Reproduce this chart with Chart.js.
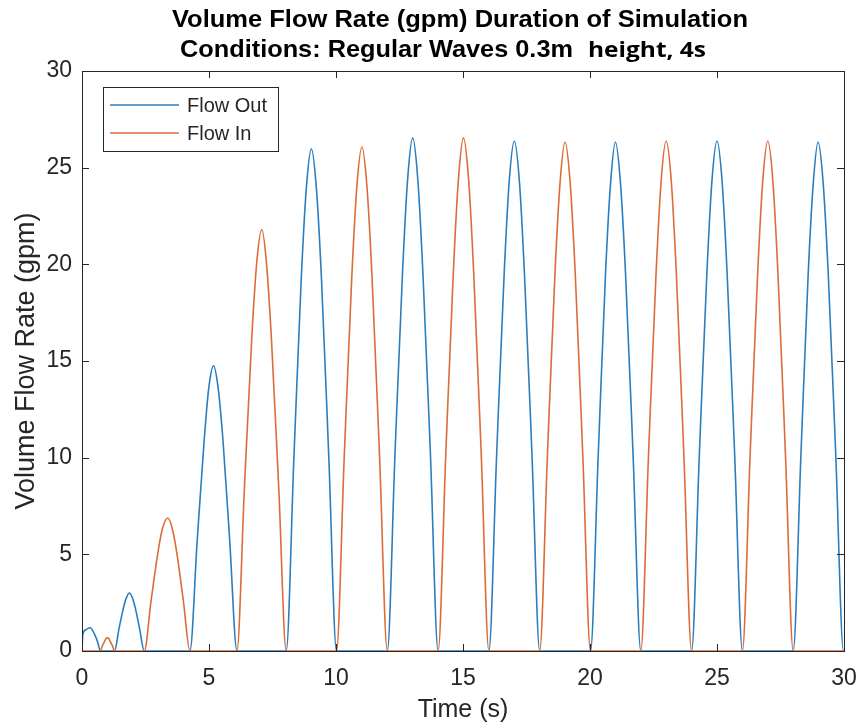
<!DOCTYPE html>
<html>
<head>
<meta charset="utf-8">
<script src="https://cdn.jsdelivr.net/npm/chart.js@4/dist/chart.umd.min.js"></script>
<style>
  html, body { margin: 0; padding: 0; background: #ffffff; }
  #wrap { width: 860px; height: 727px; position: relative; }
</style>
</head>
<body>
<div id="wrap"><canvas id="c" width="860" height="727"></canvas></div>
<script>
// ---- Data ----
const titleLine1 = "Volume Flow Rate (gpm) Duration of Simulation";
const titleLine2a = "Conditions: Regular Waves 0.3m";
const titleLine2b = "height, 4s";
const xAxisTitle = "Time (s)";
const yAxisTitle = "Volume Flow Rate (gpm)";
const seriesNames = ["Flow Out", "Flow In"];
const xTickValues = [0, 5, 10, 15, 20, 25, 30];
const yTickValues = [0, 5, 10, 15, 20, 25, 30];

// Flow Out (blue)
const flowOutTime = [
  0, 0.03, 0.15, 0.32, 0.5, 0.62, 0.72,
  1.28, 1.455, 1.63, 1.75, 1.865, 1.98, 2.10, 2.27, 2.45,
  4.25, 4.53, 4.81, 4.99, 5.18, 5.36, 5.55, 5.82, 6.10,
  8.04, 8.34, 8.63, 8.83, 9.03, 9.23, 9.43, 9.72, 10.02,
  12.02, 12.32, 12.62, 12.82, 13.02, 13.22, 13.42, 13.72, 14.02,
  16.02, 16.32, 16.62, 16.82, 17.02, 17.22, 17.42, 17.72, 18.02,
  20.02, 20.32, 20.61, 20.81, 21.0, 21.2, 21.4, 21.7, 22.0,
  24.0, 24.3, 24.6, 24.8, 25.0, 25.2, 25.4, 25.7, 26.0,
  28.0, 28.3, 28.59, 28.79, 28.98, 29.18, 29.38, 29.68, 29.98, 30
];
const flowOutRate = [
  0, 0.85, 1.1, 1.2, 0.85, 0.45, 0,
  0, 1.14, 2.22, 2.76, 3.0, 2.76, 2.22, 1.14, 0,
  0, 5.6, 10.9, 13.6, 14.75, 13.6, 10.9, 5.6, 0,
  0, 9.9, 19.2, 23.9, 25.97, 23.9, 19.2, 9.9, 0,
  0, 10.1, 19.6, 24.4, 26.54, 24.4, 19.6, 10.1, 0,
  0, 10.0, 19.5, 24.3, 26.38, 24.3, 19.5, 10.0, 0,
  0, 10.0, 19.5, 24.2, 26.33, 24.2, 19.5, 10.0, 0,
  0, 10.0, 19.5, 24.3, 26.38, 24.3, 19.5, 10.0, 0,
  0, 10.0, 19.5, 24.2, 26.33, 24.2, 19.5, 10.0, 0, 0
];

// Flow In (orange)
const flowInTime = [
  0,
  0.72, 0.80, 0.89, 0.94, 1.0, 1.06, 1.11, 1.2, 1.28,
  2.45, 2.72, 2.99, 3.17, 3.38, 3.55, 3.73, 3.99, 4.25,
  6.10, 6.39, 6.68, 6.88, 7.08, 7.26, 7.46, 7.75, 8.04,
  10.02, 10.32, 10.62, 10.82, 11.02, 11.22, 11.42, 11.72, 12.02,
  14.02, 14.32, 14.62, 14.82, 15.02, 15.22, 15.42, 15.72, 16.02,
  18.02, 18.32, 18.62, 18.82, 19.02, 19.22, 19.42, 19.72, 20.02,
  22.0, 22.3, 22.6, 22.8, 23.0, 23.2, 23.4, 23.7, 24.0,
  26.0, 26.3, 26.6, 26.8, 27.0, 27.2, 27.4, 27.7, 28.0,
  30
];
const flowInRate = [
  0,
  0, 0.26, 0.5, 0.63, 0.68, 0.63, 0.5, 0.26, 0,
  0, 2.6, 5.1, 6.35, 6.88, 6.35, 5.1, 2.6, 0,
  0, 8.3, 16.1, 20.1, 21.8, 20.1, 16.1, 8.3, 0,
  0, 9.9, 19.3, 24.0, 26.07, 24.0, 19.3, 9.9, 0,
  0, 10.1, 19.6, 24.4, 26.54, 24.4, 19.6, 10.1, 0,
  0, 10.0, 19.5, 24.2, 26.33, 24.2, 19.5, 10.0, 0,
  0, 10.0, 19.5, 24.3, 26.38, 24.3, 19.5, 10.0, 0,
  0, 10.0, 19.5, 24.3, 26.38, 24.3, 19.5, 10.0, 0,
  0
];

// ---- Styles ----
const BLUE = '#2a7ec0';
const ORANGE = '#de6b36';
const INK = '#262626';
const FONT = "'Liberation Sans', Arial, Helvetica, sans-serif";

function toPoints(xs, ys) { return xs.map((x, i) => ({ x: x, y: ys[i] })); }

function fitText(ctx, text, x, y, targetWidth, align) {
  const w = ctx.measureText(text).width;
  const s = targetWidth / w;
  ctx.save();
  ctx.translate(x, y);
  ctx.scale(s, 1);
  ctx.textAlign = align || 'left';
  ctx.fillText(text, 0, 0);
  ctx.restore();
}

const decorPlugin = {
  id: 'decor',
  afterDraw(chart) {
    const ctx = chart.ctx;
    const a = chart.chartArea;
    const xs = chart.scales.x, ys = chart.scales.y;
    ctx.save();
    // Box
    ctx.strokeStyle = INK;
    ctx.lineWidth = 1;
    ctx.strokeRect(Math.round(a.left) + 0.5, Math.round(a.top) + 0.5,
                   Math.round(a.right - a.left), Math.round(a.bottom - a.top));
    // Inward ticks on all sides
    const tl = 7;
    ctx.beginPath();
    xTickValues.forEach(v => {
      const px = Math.round(xs.getPixelForValue(v)) + 0.5;
      ctx.moveTo(px, a.bottom); ctx.lineTo(px, a.bottom - tl);
      ctx.moveTo(px, a.top); ctx.lineTo(px, a.top + tl);
    });
    yTickValues.forEach(v => {
      const py = Math.round(ys.getPixelForValue(v)) + 0.5;
      ctx.moveTo(a.left, py); ctx.lineTo(a.left + tl, py);
      ctx.moveTo(a.right, py); ctx.lineTo(a.right - tl, py);
    });
    ctx.stroke();

    // Legend
    const lx = 103, ly = 87, lw = 175, lh = 64;
    ctx.fillStyle = '#ffffff';
    ctx.fillRect(lx, ly, lw, lh);
    ctx.strokeStyle = INK;
    ctx.strokeRect(lx + 0.5, ly + 0.5, lw, lh);
    const rows = [105, 133];
    chart.data.datasets.forEach((ds, i) => {
      const y = rows[i];
      ctx.strokeStyle = ds.borderColor;
      ctx.lineWidth = 1.5;
      ctx.beginPath();
      ctx.moveTo(110, y); ctx.lineTo(179, y);
      ctx.stroke();
      ctx.fillStyle = INK;
      ctx.font = "20px " + FONT;
      ctx.textBaseline = 'middle';
      ctx.textAlign = 'left';
      ctx.fillText(ds.label, 187, y + 1);
    });

    // Title
    ctx.fillStyle = '#000000';
    ctx.textBaseline = 'alphabetic';
    ctx.font = "bold 24px " + FONT;
    fitText(ctx, titleLine1, 172, 27, 576, 'left');
    fitText(ctx, titleLine2a, 180, 57, 393, 'left');
    ctx.font = "bold 22px 'Open Sans', 'Noto Sans', sans-serif";
    fitText(ctx, titleLine2b, 588, 57, 118, 'left');
    ctx.restore();
  }
};

Chart.defaults.font.family = FONT;
Chart.defaults.color = INK;

new Chart(document.getElementById('c'), {
  type: 'line',
  data: {
    datasets: [
      {
        label: seriesNames[0],
        data: toPoints(flowOutTime, flowOutRate),
        borderColor: BLUE,
        borderWidth: 1.6,
        pointRadius: 0,
        cubicInterpolationMode: 'monotone',
        fill: false,
        order: 1
      },
      {
        label: seriesNames[1],
        data: toPoints(flowInTime, flowInRate),
        borderColor: ORANGE,
        borderWidth: 1.6,
        pointRadius: 0,
        cubicInterpolationMode: 'monotone',
        fill: false,
        order: 0
      }
    ]
  },
  options: {
    responsive: false,
    animation: false,
    events: [],
    layout: { padding: { top: 71, right: 16, bottom: 0, left: 0 } },
    plugins: {
      legend: { display: false },
      title: { display: false },
      tooltip: { enabled: false }
    },
    scales: {
      x: {
        type: 'linear',
        min: 0, max: 30,
        afterBuildTicks(scale) { scale.ticks = xTickValues.map(v => ({ value: v })); },
        afterFit(scale) { scale.height = 76; scale.paddingRight = 0; scale.paddingLeft = 0; },
        grid: { display: false },
        border: { display: false },
        ticks: { font: { size: 23 }, color: INK, padding: 6, maxRotation: 0 },
        title: { display: true, text: xAxisTitle, font: { size: 25 }, color: INK,
                 padding: { top: 0, bottom: 2 } }
      },
      y: {
        type: 'linear',
        min: 0, max: 30,
        afterBuildTicks(scale) { scale.ticks = yTickValues.map(v => ({ value: v })); },
        afterFit(scale) { scale.width = 82; scale.paddingTop = 0; scale.paddingBottom = 0; },
        grid: { display: false },
        border: { display: false },
        ticks: { font: { size: 23 }, color: INK, padding: 2 },
        title: { display: true, text: yAxisTitle, font: { size: 27 }, color: INK,
                 padding: { top: 10, bottom: 0 } }
      }
    }
  },
  plugins: [decorPlugin]
});
</script>
</body>
</html>
